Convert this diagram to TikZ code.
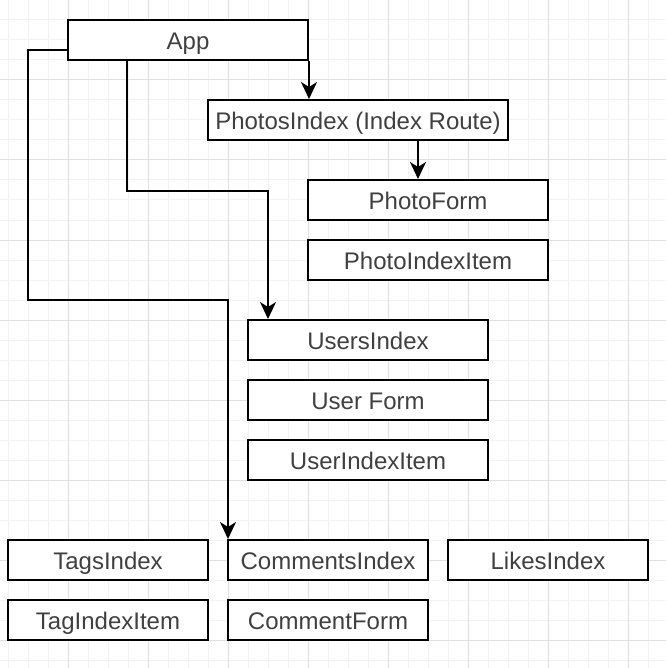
\documentclass[tikz,border=0pt]{standalone}
\usepackage{fontspec}
\setmainfont{Liberation Sans}
\usetikzlibrary{arrows.meta,calc}
\definecolor{gridminor}{HTML}{F2F2F2}
\definecolor{gridmajor}{HTML}{E0E0E0}
\definecolor{txt}{HTML}{404040}
\tikzset{
  compbox/.style={draw=black, line width=2pt, fill=white, minimum width=240pt, minimum height=40pt,
    inner sep=0pt, text height=18.5pt, text depth=0pt, text=txt, font=\fontsize{24}{28}\selectfont},
  conn/.style={draw=black, line width=2pt},
  arr/.style={conn, -{Stealth[length=17pt,width=16pt,inset=5pt]}},
  gminor/.style={draw=gridminor, line width=1pt},
  gmajor/.style={draw=gridmajor, line width=1pt}
}
\begin{document}
\begin{tikzpicture}[x=1pt,y=-1pt]
\useasboundingbox (0,0) rectangle (666,668);
\fill[white] (0,0) rectangle (666,668);
% grid
\foreach \x in {8,28,...,648} \draw[gminor] (\x,0) -- (\x,668);
\foreach \y in {0,20,...,660} \draw[gminor] (0,\y) -- (666,\y);
\foreach \x in {68,148,...,628} \draw[gmajor] (\x,0) -- (\x,668);
\foreach \y in {0,80,...,640} \draw[gmajor] (0,\y) -- (666,\y);
% nodes
\node[compbox] (app) at (188,40) {App};
\node[compbox, minimum width=300pt] (photos) at (358,120) {PhotosIndex (Index Route)};
\node[compbox] (photoform) at (428,200) {PhotoForm};
\node[compbox] (photoitem) at (428,260) {PhotoIndexItem};
\node[compbox] (users) at (368,340) {UsersIndex};
\node[compbox] (userform) at (368,400) {User Form};
\node[compbox] (useritem) at (368,460) {UserIndexItem};
\node[compbox, minimum width=200pt] (tags) at (108,560) {TagsIndex};
\node[compbox, minimum width=200pt] (comments) at (328,560) {CommentsIndex};
\node[compbox, minimum width=200pt] (likes) at (548,560) {LikesIndex};
\node[compbox, minimum width=200pt] (tagitem) at (108,620) {TagIndexItem};
\node[compbox, minimum width=200pt] (commentform) at (328,620) {CommentForm};
% connectors
\draw[arr] (app.south east) -- (app.south east |- photos.north);
\draw[arr] ([xshift=211pt]photos.south west) -- ([xshift=111pt]photoform.north west);
\draw[arr] ([xshift=60pt]app.south west) -- ++(0,-130pt) -| ([xshift=21pt]users.north west);
\draw[arr] ([yshift=-10pt]app.west) -- ++(-39pt,0) -- ++(0,-250pt) -| ([xshift=1pt]comments.north west);
\end{tikzpicture}
\end{document}
